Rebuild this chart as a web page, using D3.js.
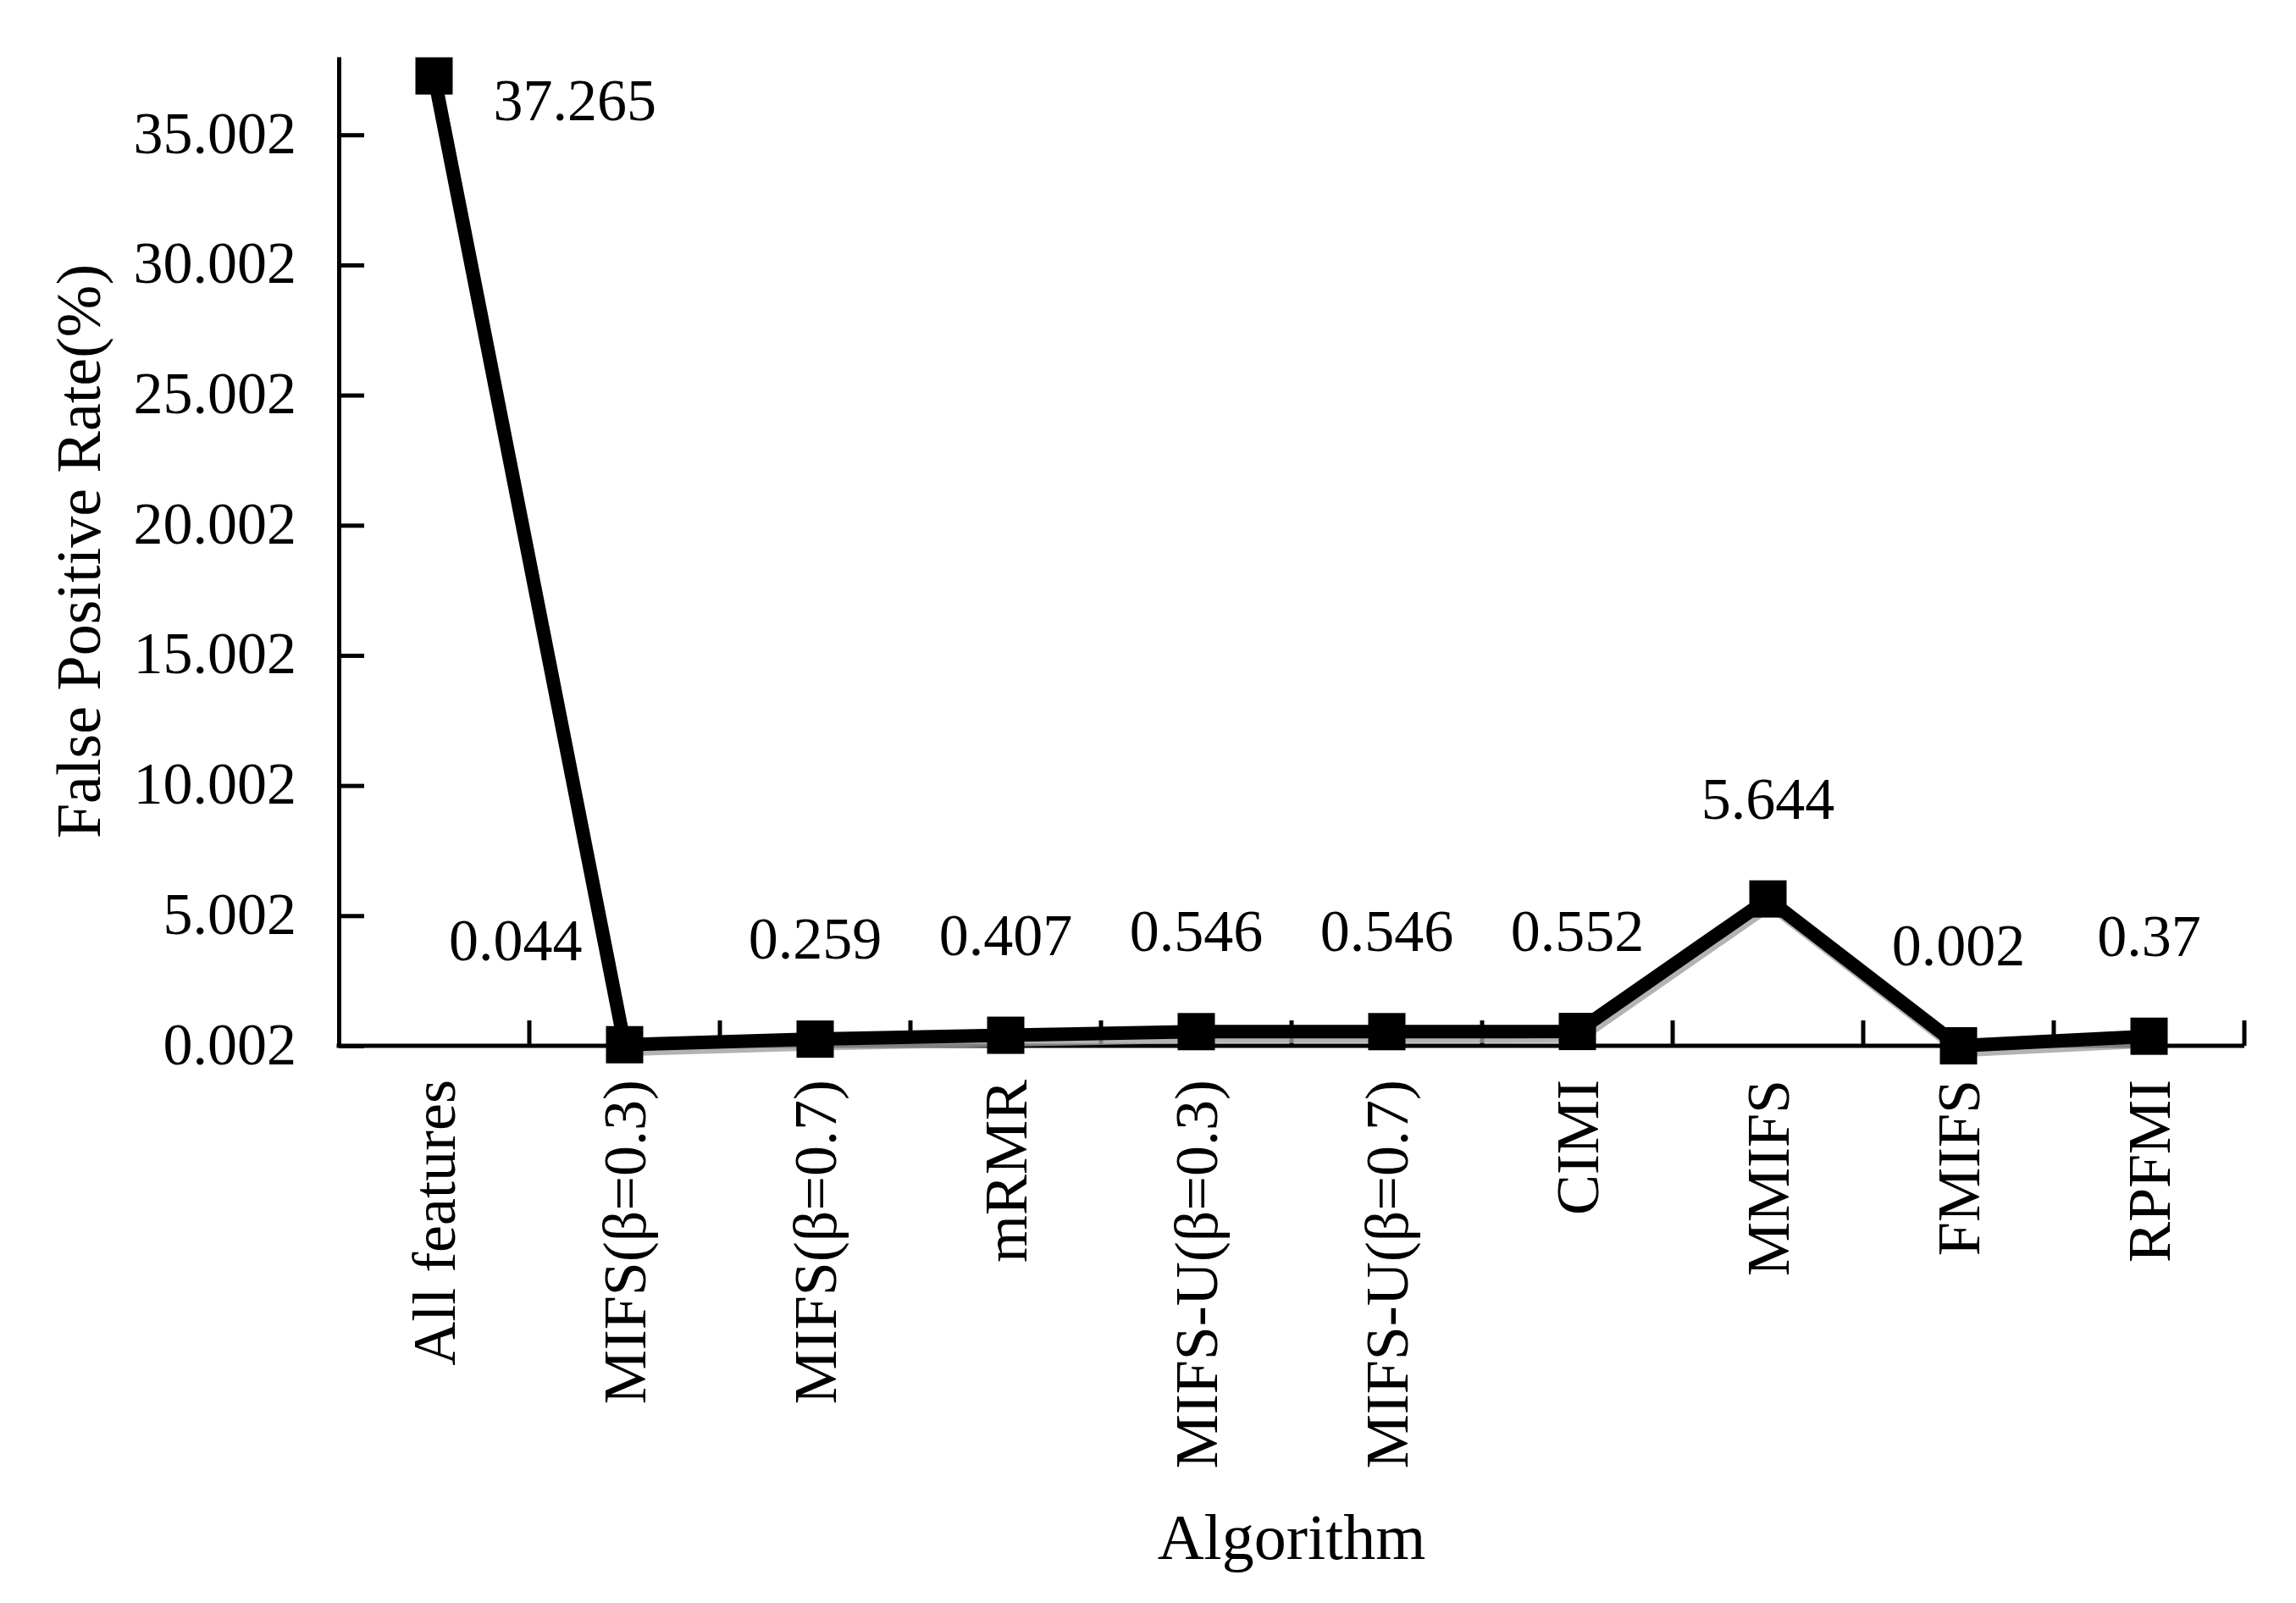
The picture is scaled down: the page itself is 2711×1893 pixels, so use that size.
<!DOCTYPE html>
<html>
<head>
<meta charset="utf-8">
<script src="https://cdn.jsdelivr.net/npm/d3@7"></script>
<style>
  html, body { margin: 0; padding: 0; background: #fff; }
  text { font-family: "Liberation Serif", "DejaVu Serif", serif; fill: #000; }
</style>
</head>
<body>
<div id="chart"></div>
<script>
// data
const algorithms = ["All features", "MIFS(β=0.3)", "MIFS(β=0.7)", "mRMR", "MIFS-U(β=0.3)",
                    "MIFS-U(β=0.7)", "CIMI", "MMIFS", "FMIFS", "RPFMI"];
const fpr = [37.265, 0.044, 0.259, 0.407, 0.546, 0.546, 0.552, 5.644, 0.002, 0.37];
const fprLabels = ["37.265", "0.044", "0.259", "0.407", "0.546", "0.546", "0.552", "5.644", "0.002", "0.37"];
const yTicks = [0.002, 5.002, 10.002, 15.002, 20.002, 25.002, 30.002, 35.002];
const yDomain = [0.002, 38.002];

const W = 2711, H = 1893;
const plot = { left: 400, right: 2650, top: 67, bottom: 1235 };

const svg = d3.select("#chart").append("svg").attr("width", W).attr("height", H);
svg.append("rect").attr("width", W).attr("height", H).attr("fill", "#fff");

const x = d3.scaleBand().domain(algorithms).range([plot.left, plot.right]).padding(0);
const y = d3.scaleLinear().domain(yDomain).range([plot.bottom, plot.top]);
const cx = d => x(d) + x.bandwidth() / 2;

// y axis, ticks pointing inward
const yAxis = d3.axisLeft(y).tickValues(yTicks).tickFormat(d3.format(".3f"))
  .tickSizeInner(-30).tickSizeOuter(0).tickPadding(50);
const gy = svg.append("g").attr("transform", `translate(${plot.left},0)`).call(yAxis);
gy.select(".domain").attr("stroke", "#000").attr("stroke-width", 5);
gy.selectAll(".tick line").attr("stroke", "#000").attr("stroke-width", 5);
gy.selectAll(".tick text").attr("font-size", 70).attr("font-family", null).attr("dy", "0.3em");

// x axis: baseline + boundary ticks pointing up
svg.append("line").attr("x1", plot.left - 2.5).attr("x2", plot.right)
  .attr("y1", plot.bottom).attr("y2", plot.bottom).attr("stroke", "#000").attr("stroke-width", 5);
svg.append("g").selectAll("line").data(algorithms).join("line")
  .attr("x1", d => x(d) + x.bandwidth()).attr("x2", d => x(d) + x.bandwidth())
  .attr("y1", plot.bottom).attr("y2", plot.bottom - 30)
  .attr("stroke", "#000").attr("stroke-width", 5);

svg.append("g").selectAll("text").data(algorithms).join("text")
  .attr("transform", d => `translate(${cx(d)},${plot.bottom + 40}) rotate(-90)`)
  .attr("text-anchor", "end").attr("dy", "0.34em").attr("font-size", 72)
  .text(d => d);

// axis titles
svg.append("text").attr("transform", `translate(118,${(plot.top + plot.bottom) / 2}) rotate(-90)`)
  .attr("text-anchor", "middle").attr("font-size", 74).text("False Positive Rate(%)");
svg.append("text").attr("x", (plot.left + plot.right) / 2).attr("y", 1841)
  .attr("text-anchor", "middle").attr("font-size", 76).text("Algorithm");

// series
const pts = algorithms.map((a, i) => ({ a, v: fpr[i], lab: fprLabels[i], i }));
const line = d3.line().x(d => cx(d.a)).y(d => y(d.v));

svg.append("path").datum(pts).attr("d", line)
  .attr("transform", "translate(3,7)")
  .attr("fill", "none").attr("stroke", "#a0a0a0").attr("stroke-width", 13).attr("opacity", 0.8);
svg.append("path").datum(pts).attr("d", line)
  .attr("fill", "none").attr("stroke", "#000").attr("stroke-width", 16).attr("stroke-linejoin", "miter");

const m = 44;
svg.append("g").selectAll("rect").data(pts).join("rect")
  .attr("x", d => cx(d.a) - m / 2).attr("y", d => y(d.v) - m / 2)
  .attr("width", m).attr("height", m).attr("fill", "#000");

// data labels (first one sits to the right, second to the left)
svg.append("g").selectAll("text").data(pts).join("text")
  .attr("font-size", 70)
  .attr("text-anchor", d => d.i === 0 ? "start" : d.i === 1 ? "end" : "middle")
  .attr("x", d => d.i === 0 ? cx(d.a) + 70 : d.i === 1 ? cx(d.a) - 50 : cx(d.a))
  .attr("y", d => d.i === 0 ? y(d.v) + 52 : d.i === 1 ? y(d.v) - 100 : y(d.v) - 95)
  .text(d => d.lab);
</script>
</body>
</html>
